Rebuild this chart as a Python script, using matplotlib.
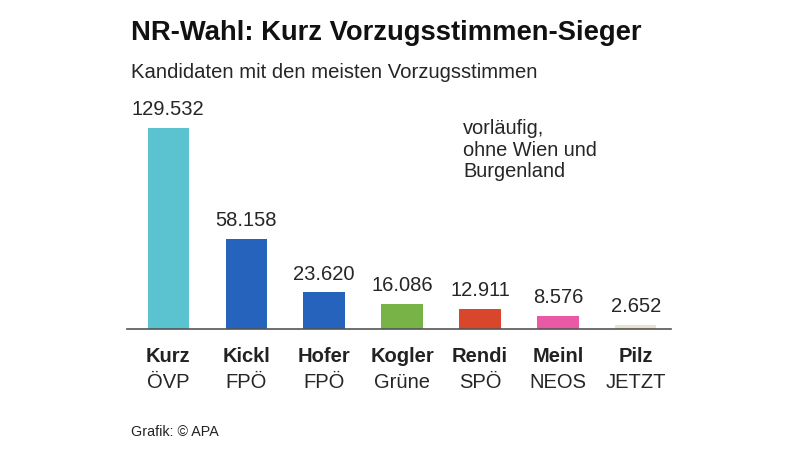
import matplotlib.pyplot as plt

plt.rcParams['font.family'] = ['Liberation Sans', 'DejaVu Sans']

# Data
names = ['Kurz', 'Kickl', 'Hofer', 'Kogler', 'Rendi', 'Meinl', 'Pilz']
parties = ['ÖVP', 'FPÖ', 'FPÖ', 'Grüne', 'SPÖ', 'NEOS', 'JETZT']
votes = [129532, 58158, 23620, 16086, 12911, 8576, 2652]
colors = ['#5bc3cf', '#2563bd', '#2563bd', '#77b346', '#d8472b', '#e85aa6', '#e9e5cb']

fig = plt.figure(figsize=(8, 4.52), dpi=100)
# axes: baseline at y=330px, top of biggest bar at y=129px
ax = fig.add_axes([127 / 800, 122 / 452, 544 / 800, 201 / 452])

x = list(range(len(names)))
ax.bar(x, votes, width=0.526, color=colors, zorder=2)
ax.set_xlim(-0.526, 6.449)
ax.set_ylim(0, max(votes))

for i, v in enumerate(votes):
    label = f'{v:,}'.replace(',', '.')
    ax.annotate(label, xy=(i, v), xytext=(0, 7), textcoords='offset points',
                ha='center', va='bottom', fontsize=14.5, color='#262626',
                annotation_clip=False)
    ax.annotate(names[i], xy=(i, 0), xytext=(0, -19), textcoords='offset points',
                ha='center', va='center', fontsize=14.5, fontweight='bold',
                color='#222222', annotation_clip=False)
    ax.annotate(parties[i], xy=(i, 0), xytext=(0, -37.5), textcoords='offset points',
                ha='center', va='center', fontsize=14.5, color='#262626',
                annotation_clip=False)

for s in ['top', 'right', 'left']:
    ax.spines[s].set_visible(False)
ax.spines['bottom'].set_color('#555555')
ax.spines['bottom'].set_linewidth(1.2)
ax.set_xticks([])
ax.set_yticks([])

fig.text(131 / 800, 1 - 33 / 452, 'NR-Wahl: Kurz Vorzugsstimmen-Sieger',
         fontsize=19.7, fontweight='bold', color='#111111', va='center', ha='left')
fig.text(131 / 800, 1 - 72 / 452, 'Kandidaten mit den meisten Vorzugsstimmen',
         fontsize=14.6, color='#262626', va='center', ha='left')
fig.text(463 / 800, 1 - 119 / 452, 'vorläufig,\nohne Wien und\nBurgenland',
         fontsize=14.4, color='#262626', va='top', ha='left', linespacing=1.17)
fig.text(131 / 800, 1 - 432 / 452, 'Grafik: © APA',
         fontsize=10.3, color='#222222', va='center', ha='left')

plt.savefig('out.png', dpi=100)
